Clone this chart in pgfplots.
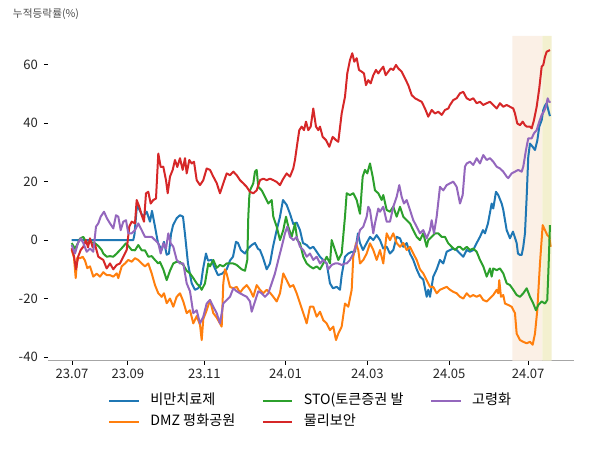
\documentclass[border=0pt]{standalone}
\usepackage{fontspec}
\setmainfont{Noto Sans CJK KR}
\usepackage{pgfplots}
\pgfplotsset{compat=1.18}
\definecolor{cblue}{HTML}{1F77B4}
\definecolor{corange}{HTML}{FF7F0E}
\definecolor{cgreen}{HTML}{2CA02C}
\definecolor{cred}{HTML}{D62728}
\definecolor{cpurple}{HTML}{9467BD}
\definecolor{shadeO}{HTML}{FBF0E6}
\definecolor{shadeY}{HTML}{F3F0CF}
\begin{document}
\begin{tikzpicture}
\useasboundingbox (-35.85pt,-67.1pt) rectangle (414.15pt,270.4pt);
\begin{axis}[
 at={(0,0)}, anchor=south west,
 scale only axis, width=395.0pt, height=243.4pt,
 xmin=47.8, xmax=574.5, ymin=-41.2, ymax=69.8,
 axis x line*=bottom, axis y line*=left,
 x axis line style={-, draw=black!35, line width=0.8pt},
 y axis line style={draw=none},
 xtick={72,127.9,204.4,285.5,367.4,449.2,528.2},
 xticklabels={23.07,23.09,23.11,24.01,24.03,24.05,24.07},
 ytick={-40,-20,0,20,40,60},
 tick align=outside, major tick length=3pt,
 tick style={black, line width=0.6pt},
 ticklabel style={font=\fontsize{9.8}{11}\selectfont, text=black!85},
 yticklabel style={xshift=-1pt},
 /pgf/number format/assume math mode=true,
 legend columns=3,
 legend cell align=left,
 legend style={at={(0.5,-0.088)}, anchor=north, draw=none, fill=none,
   font=\fontsize{10.6}{12}\selectfont,
   nodes={text height=7.5pt, text depth=2pt, inner sep=2pt},
   /tikz/every odd column/.append style={column sep=6pt},
   /tikz/every even column/.append style={column sep=18pt},
   row sep=2pt},
 legend image code/.code={\draw[#1] (0pt,0pt) -- (22pt,0pt);},
 every axis plot/.append style={line width=1.5pt, line join=round},
]
\addplot[draw=none, fill=shadeO, forget plot, line width=0pt] coordinates {(512.3,-41.2) (542.3,-41.2) (542.3,69.8) (512.3,69.8) (512.3,-41.2)};
\addplot[draw=none, fill=shadeY, forget plot, line width=0pt] coordinates {(542.3,-41.2) (551.7,-41.2) (551.7,69.8) (542.3,69.8) (542.3,-41.2)};
% blue
\addplot[cblue, forget plot] coordinates {
(71.7,0) (133.3,0) (134.5,2) (137,12) (140,10) (143,8) (146.7,9.7) (150,6.3) (152,10) (155,4.6) (158,-1) (161.7,-3.4) (164,-0.6) (166.7,-5) (169,-4.6) (171,2) (173,5) (176.7,7.5) (180,8.5) (183,8) (185,2) (188,-8) (191.7,-14.8) (195,-17) (198,-16.5) (201,-15) (203,-10) (206,-4.6) (208,-7) (211.7,-6.8) (214,-9) (218,-12) (222,-11.5) (226.7,-10) (230,-7) (233,-5.7) (236,-0.6) (238,-1) (241,-3.5) (245,-4.6) (248,-2.9) (251.7,-1.7) (255,-1) (258,-3) (260,-3.4) (263,-6) (266.7,-10) (270,-8) (273,-2.3) (276.7,3.4) (280,8) (283,13.7) (286.7,12) (290,9) (293.3,5.5) (296.7,6) (300,3.4) (303,-1) (306.7,-1.7) (310,-2.9) (313.3,-2.3) (316.7,-4) (320,-5.7) (323.3,-6.8) (326.7,-8) (330,-14.8) (333,-16.5) (336.7,-16) (340,-17) (341.7,-12) (345,-5.7) (348.3,-4.6) (351.7,-4) (355,-4) (358,2.3) (360,-1) (363,-3.4) (366.7,-1) (370,1.1) (373.3,0) (376.7,1.7) (380,0) (383.3,-2.9) (386.7,-2.3) (390,-4.6) (393.3,-3.4) (396.7,1.1) (400,0.6) (403.3,-2.3) (406.7,-1) (410,-4.6) (413.3,-6.8) (416.7,-10) (420,-12.5) (423.3,-13.5) (426.7,-19.4) (428.3,-17) (430,-19.4) (433.3,-12.5) (436.7,-10) (440,-6.8) (443.3,-8) (446.7,-4) (450,-3.4) (453.3,-2.9) (456.7,-3.4) (460,-4.6) (463.3,-5.7) (466.7,-3.4) (470,-4) (473.3,-3.4) (476.7,-1) (480,1.1) (483,3.4) (485,2.3) (488,5.7) (491.7,12.5) (493.3,10.8) (496,16.5) (498.3,15.4) (501.7,12.5) (503.3,10.3) (506.7,3.4) (510,0.6) (513,2.9) (516.7,-1) (518,-4.6) (520,-5.1) (521.7,-5.1) (523.3,-2.3) (525,2.3) (526.7,14.8) (528.3,28.5) (530,33) (532.7,31.9) (535,30.8) (537.3,34) (539.3,38.8) (541.7,41) (543.3,44.5) (545,46) (546.7,46.8) (548.3,44.5) (550,42.4)};
% orange
\addplot[corange, forget plot] coordinates {
(71.7,-3.4) (74,-6) (75.7,-13) (77.3,-6) (80,-6.2) (82.7,-5.7) (85,-7) (87.3,-9.6) (90,-9) (93.3,-12.5) (96.7,-11.5) (100,-12.5) (103.3,-11) (106.7,-12) (110,-12) (113.3,-12.5) (116.7,-11.4) (118.3,-13) (121.7,-9) (125,-8) (128.3,-6.8) (131.7,-7.4) (135,-6.2) (138.3,-6.8) (141.7,-8) (145,-9) (148.3,-8) (151.7,-11.4) (155,-15.4) (158.3,-18.2) (161.7,-19.4) (164,-18.2) (166.7,-21.6) (170,-20) (173.3,-22.8) (176.7,-19.4) (180,-18.2) (183.3,-21) (186.7,-25) (190,-24) (193.3,-28.5) (196.7,-26) (200,-29) (201.7,-34.2) (203.3,-27) (206.7,-24) (210,-20.5) (213.3,-25) (216.7,-26.5) (220,-28.5) (221.7,-29.6) (223.3,-14.8) (225,-10) (226.7,-11.5) (230,-16) (233.3,-16.5) (236.7,-16) (240,-18) (243.3,-16.5) (246.7,-15.4) (250,-17) (253.3,-19.4) (256.7,-15.4) (260,-17) (263.3,-18.2) (266.7,-17) (270,-18) (273.3,-19.4) (276.7,-21) (280,-18.2) (283.3,-11.4) (286.7,-13.7) (290,-16) (293.3,-15.4) (296.7,-18.2) (300,-21.6) (303.3,-25) (306.7,-28.5) (310,-22.8) (313.3,-22.8) (316.7,-26.2) (320,-24.5) (323.3,-27.4) (326.7,-28.5) (330,-30.8) (333.3,-29.6) (336,-34.2) (338.3,-32) (341.7,-29.6) (345,-21.7) (348.3,-22.8) (351.7,-17) (353.3,-5.7) (356,-1.1) (358.3,-3.4) (360,-8) (363.3,-6.8) (366.7,-4.6) (370,-1.1) (373.3,-3.4) (376.7,-6.8) (380,-3.4) (383.3,-8) (386.7,2.3) (390,0) (393.3,2.3) (396.7,-1) (400,-2.3) (403.3,-1) (406.7,-3.4) (410,-2.3) (413.3,-4.6) (416.7,-6.8) (420,-10) (423.3,-11.4) (426.7,-13.7) (430,-16) (433.3,-16) (436.7,-18.2) (440,-17) (443.3,-16.5) (446.7,-16) (450,-17) (453.3,-17.7) (456.7,-18.2) (460,-19.4) (463.3,-20) (466.7,-18.2) (470,-19.4) (473.3,-18.8) (476.7,-19.4) (480,-18.8) (483.3,-20.5) (486.7,-21) (490,-19.9) (493.3,-18.8) (496.7,-17) (498.3,-18.2) (499.3,-13.7) (501,-19.4) (503.3,-18.8) (505,-21.7) (508.3,-22.2) (511.7,-22.8) (515,-25) (516.7,-32) (520,-34.2) (523.3,-34.8) (526.7,-35.3) (530,-34.8) (532.7,-35.8) (535,-32) (537.3,-24) (540,-8) (542.7,5.1) (545,3.4) (547.3,1.7) (549.3,1.1) (550.7,-2.3)};
% green
\addplot[cgreen, forget plot] coordinates {
(71.7,-1) (75,-3) (78,-1) (80,0.5) (83.3,1.1) (86.7,-1) (90,-0.6) (95,-1.1) (98.3,-2) (101.7,-3.4) (103.3,-4.6) (106.7,-5.7) (110,-5.5) (113.3,-5.7) (116.7,-4.6) (120,-3.4) (121.7,-2.8) (126,-1.1) (128.3,-2) (131.7,-3.4) (135,-3.5) (138.3,-1.7) (141.7,-3.5) (145,-3.5) (148.3,-5.7) (151.7,-5.5) (155,-6.8) (158.3,-8) (160,-7.5) (163.3,-10) (166.7,-13.7) (170,-10.5) (173.3,-8) (176.7,-7.4) (180,-7.5) (183.3,-8.5) (186.7,-10.5) (190,-11.4) (193.3,-13) (196.7,-14.8) (200,-16) (201.7,-17) (205,-14.8) (208.3,-8) (210,-9) (213.3,-6.8) (216.7,-9.5) (220,-8.5) (223.3,-9) (226.7,-8) (230,-8) (233.3,-8) (236.7,-8.5) (240,-9.5) (241.7,-10) (245,-10.5) (247.3,-6.8) (248.3,8) (249.3,14.8) (250,17) (253.3,19.4) (255,23.4) (256.7,24) (258.3,18.2) (261.7,17) (265,14.8) (268.3,12.5) (271.7,13.7) (273.3,8) (276.7,4.6) (280,0) (283.3,3.4) (286,8) (288.3,4.6) (291.7,1.1) (295,5.7) (297.3,0) (300,-1.1) (303.3,-5.7) (306.7,-8) (310,-9) (313.3,-9.7) (316.7,-9) (320,-10) (323.3,-8) (326.7,-5.7) (330,-8) (331.7,0) (335,-3.4) (338.3,-6.8) (341.7,-4.6) (345,8) (346.7,16) (350,15.4) (353.3,16) (356.7,13.7) (360,9) (362.7,21.7) (365,24) (367.3,22.8) (370,26.2) (372.7,21.7) (375,17) (378.3,16) (381.7,13.7) (383.3,15.4) (386.7,10.3) (390,9.7) (393.3,11.4) (396.7,8) (400,11.4) (403.3,8) (406.7,6.8) (410,5.7) (413.3,3.4) (416.7,1.1) (420,0) (423.3,2.3) (426.7,-2.3) (428.3,0) (431.7,1.1) (435,2.3) (438.3,2.3) (441.7,1.1) (445,1.1) (448.3,-1.1) (451.7,-2.3) (455,-3.4) (458.3,-2.3) (460,-2.3) (463.3,-3.4) (466.7,-2.3) (470,-3.4) (473.3,-2.9) (476.7,-4) (480,-6.8) (483.3,-9) (486.7,-12.5) (490,-9.7) (491.7,-12.5) (493.3,-9.7) (496.7,-10.3) (500,-9.7) (503.3,-11.4) (506.7,-14.8) (510,-15.4) (513.3,-17) (516.7,-18.8) (520,-19.4) (523.3,-18.2) (526.7,-16.5) (530,-19.4) (533.3,-21.7) (536,-24) (538.3,-22.2) (541.7,-21) (545,-21.7) (547.3,-20.5) (548.7,-8) (550,5.1)};
% red
\addplot[cred, forget plot] coordinates {
(71.7,-2.8) (74,-5.5) (76,-10) (78.3,-5.5) (80.7,-3.4) (83.3,-2.3) (86,0) (88,-2.5) (90,0.6) (92.7,-2.5) (95,-1.5) (98.3,-5.7) (103.3,-6.8) (106.7,-9.7) (110,-8) (113.3,-10) (116.7,-8.5) (120,-8) (123.3,-5.7) (126.7,-3.4) (129.3,4.6) (131.7,6.3) (135,5.7) (136.7,13.7) (139.3,11.4) (141.7,8.5) (144,6.3) (146,16) (148.3,16.5) (150.7,12.5) (153.3,13.7) (156,14.2) (158.3,29.6) (160.7,25) (163.3,25.1) (166,20.5) (167.7,16) (170,21.7) (172.7,24) (175,27.4) (177.3,25) (180,28) (182.7,24) (185,28) (186.7,22.8) (189.3,27.4) (191.7,26.2) (194,26.8) (196.7,20.5) (200,18.8) (203.3,20.5) (206.7,24.5) (210,24) (213.3,21.7) (216.7,19.5) (220,16) (223.3,19.4) (226.7,22.8) (230,22.2) (233.3,23.4) (236.7,22.2) (240,20.5) (243.3,19.4) (246.7,18.2) (250,16.5) (253.3,16) (256.7,17) (260,20.5) (263.3,21) (266.7,20.5) (270,21) (273.3,20.5) (276.7,19.9) (280,18.8) (283.3,21) (286.7,22.8) (290,21.7) (293.3,24.5) (295,27.4) (297.3,33) (299.3,37.6) (301.7,38.8) (304,37.6) (306,40.5) (308.3,37.6) (310.7,38.8) (313.3,45) (316,38.8) (318.3,37.6) (320,38.8) (322.7,35.3) (326,34.2) (329.3,31.9) (332.7,35.3) (336,34.2) (338.3,33.6) (341.7,43.3) (345,49) (347.3,57) (350,61.6) (352.3,63.9) (354.3,61) (356.7,62.2) (359,58.2) (361.7,57.6) (364,57) (366,53) (368.3,54.7) (370.7,53.6) (373.3,56.4) (376,58.2) (378.3,57) (380.7,58.2) (383.3,59.3) (385.7,56.4) (388.3,57.6) (390.7,58.7) (393.3,58.2) (396,59.9) (398.3,58.7) (401.7,57.6) (405,55.3) (408.3,53) (411.7,49.6) (415,48.5) (418.3,47.9) (421.7,47.3) (425,45) (428.3,42.2) (431.7,44.5) (435,43.3) (438.3,43.9) (441.7,42.8) (445,44.5) (448.3,45) (450,46.2) (453.3,47.9) (456.7,48.5) (460,50.2) (463.3,50.7) (466.7,48.5) (470,47.9) (473.3,48.5) (476.7,46.8) (480,47.3) (483.3,46.2) (486.7,46.8) (490,47.3) (493.3,46.2) (496.7,45) (500,46.8) (503.3,45.6) (506.7,46.2) (510,45.6) (513.3,45) (515,43.3) (517.3,39.9) (520,39.3) (522.7,40.5) (525,39.3) (526.7,38.8) (530,38.8) (531.7,38.2) (534,41) (536.7,45.6) (539.3,51.9) (541.7,59.3) (543.3,59.9) (545,62.7) (546.7,64.4) (550,65)};
% purple
\addplot[cpurple, forget plot] coordinates {
(71.7,-1.7) (75,-4.6) (78,-1) (80.7,0.6) (83.3,-1) (86.7,-4) (90,-2.9) (93.3,-4) (96,4.6) (98.3,5.7) (100.7,8) (104,9.7) (107,7.4) (110,5.7) (113.3,4) (116,8.5) (118.3,8) (120.7,3.4) (123.3,6.3) (126,6.8) (128.3,2.3) (131.7,2.3) (135,3.4) (138.3,5.7) (141.7,3.4) (145,1.1) (148.3,1.1) (151.7,1.1) (155,0) (158.3,-1.1) (160.7,-4.6) (163.3,-1.1) (166,-2.9) (168.3,2.3) (170.7,-1.1) (173.3,-2.3) (176.7,-6.8) (180,-8) (183.3,-8) (186.7,-14.8) (190,-17.5) (193.3,-25) (196.7,-24) (200,-28.5) (203.3,-26.2) (206.7,-21.7) (210,-20.5) (213.3,-22.8) (216.7,-25) (220,-28.5) (223.3,-21.7) (226.7,-20.5) (230,-19.4) (233.3,-16.5) (236.7,-17.5) (240,-18.2) (243.3,-18.8) (246.7,-19.4) (250,-21) (251.7,-24.5) (255,-21) (258.3,-17.5) (261.7,-18.2) (265,-19.4) (268.3,-18.2) (271.7,-14.8) (275,-11.4) (278.3,-6.8) (281.7,-2.3) (285,2.3) (287.3,4.6) (290,1.1) (293.3,0) (296.7,1.1) (300,-2.3) (303.3,-3.4) (306.7,-5.7) (310,-4.6) (313.3,-6.8) (316.7,-5.7) (320,-8) (323.3,-6.8) (326.7,-8) (328.3,-10) (331.7,-8.5) (335,-8) (338.3,-8) (341.7,-8.5) (345,-8) (346.7,-8) (350,-6.8) (353.3,-4.6) (356.7,-1.1) (360,3.4) (363.3,4.6) (366.7,8) (368.3,11.4) (370,10.3) (373.3,2.3) (375,5.7) (378.3,10.8) (380,9.7) (383.3,11.4) (386.7,6.3) (390,6.3) (393.3,11.4) (396.7,14.8) (399.3,18.8) (401.7,14.8) (404,12.5) (406.7,13.7) (410,10.3) (413.3,6.8) (416.7,4.6) (420,2.3) (423.3,3.4) (426.7,0.6) (430,3.4) (431.7,6.8) (434,2.3) (436.7,8) (440,18.2) (443.3,17) (446.7,18.8) (450,19.4) (453.3,20) (456.7,18.2) (460,12.5) (462.7,15.4) (465,25.1) (466.7,26.2) (470,26.8) (473.3,25.7) (476.7,28) (480,26.2) (483.3,29.1) (486.7,27.4) (490,28) (493.3,26.8) (496.7,25.1) (500,24.5) (503.3,23.4) (506.7,21.7) (508.3,21.2) (511.7,22.8) (515,23.4) (518.3,24) (521.7,23.4) (523.3,25.1) (526,30.8) (528.3,34.8) (531.7,34.8) (534,36.5) (536.7,37.6) (539.3,40.5) (541.7,42.8) (544,44) (546,45.6) (547.7,48.5) (549,47.3) (550.7,47.3)};
\addlegendimage{cblue, line width=1.5pt}
\addlegendentry{비만치료제}
\addlegendimage{cgreen, line width=1.5pt}
\addlegendentry{STO(토큰증권 발}
\addlegendimage{cpurple, line width=1.5pt}
\addlegendentry{고령화}
\addlegendimage{corange, line width=1.5pt}
\addlegendentry{DMZ 평화공원}
\addlegendimage{cred, line width=1.5pt}
\addlegendentry{물리보안}
\end{axis}
\node[anchor=west, inner sep=0pt, font=\fontsize{8}{9}\selectfont, text=black!70] at (-26.3pt,259.9pt) {누적등락률(\%)};
\end{tikzpicture}
\end{document}
